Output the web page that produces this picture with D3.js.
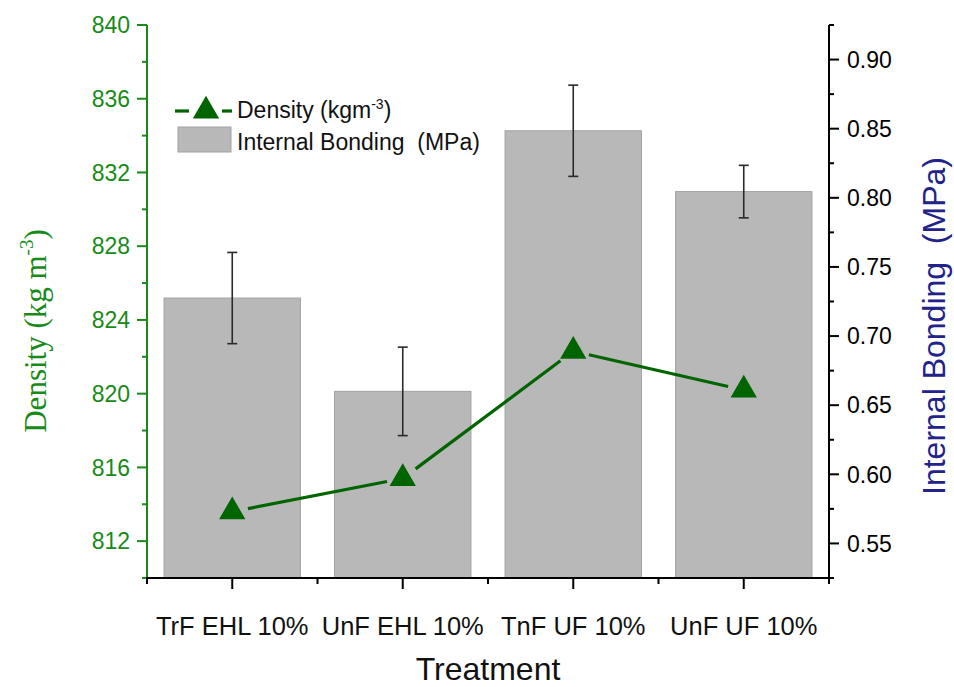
<!DOCTYPE html>
<html><head><meta charset="utf-8">
<script src="https://cdn.jsdelivr.net/npm/d3@7"></script>
<style>body{margin:0;background:#fff}svg{display:block}text{font-family:Arial,"Liberation Sans",sans-serif}</style>
</head><body><svg id="c" width="954" height="687"></svg>
<script>
const categories = ["TrF EHL 10%", "UnF EHL 10%", "TnF UF 10%", "UnF UF 10%"];
const bondingValues = [0.7275, 0.660, 0.8485, 0.8045];
const bondingErrors = [0.033, 0.032, 0.033, 0.019];
const densityValues = [813.6, 815.4, 822.3, 820.2];
const densityTicks = [812, 816, 820, 824, 828, 832, 836, 840];
const bondingTicks = [0.55, 0.60, 0.65, 0.70, 0.75, 0.80, 0.85, 0.90];

const svg = d3.select("#c");
const L = 147, R = 829, T = 25, B = 578;
const green = "#178a17", dgreen = "#006400", navy = "#22228a";

const x = d3.scaleBand().domain(categories).range([L, R]).paddingInner(0.2).paddingOuter(0.1);
const yL = d3.scaleLinear().domain([810, 840]).range([B, T]);
const yR = d3.scaleLinear().domain([0.525, 0.925]).range([B, T]);
const cx = d => x(d) + x.bandwidth() / 2;

// bars
svg.append("g").selectAll("rect").data(categories).join("rect")
  .attr("x", d => x(d)).attr("width", x.bandwidth())
  .attr("y", (d, i) => yR(bondingValues[i]))
  .attr("height", (d, i) => B - yR(bondingValues[i]))
  .attr("fill", "#b8b8b8").attr("stroke", "#a2a2a2").attr("stroke-width", 1);

// error bars
const eb = svg.append("g").attr("stroke", "#2a2a2a").attr("stroke-width", 1.6);
categories.forEach((c, i) => {
  const hi = yR(bondingValues[i] + bondingErrors[i]), lo = yR(bondingValues[i] - bondingErrors[i]);
  eb.append("line").attr("x1", cx(c)).attr("x2", cx(c)).attr("y1", hi).attr("y2", lo);
  eb.append("line").attr("x1", cx(c) - 5).attr("x2", cx(c) + 5).attr("y1", hi).attr("y2", hi);
  eb.append("line").attr("x1", cx(c) - 5).attr("x2", cx(c) + 5).attr("y1", lo).attr("y2", lo);
});

// density line with gaps near symbols
const pts = categories.map((c, i) => [cx(c), yL(densityValues[i])]);
const lg = svg.append("g").attr("stroke", dgreen).attr("stroke-width", 3.2);
for (let i = 0; i < pts.length - 1; i++) {
  const [x1, y1] = pts[i], [x2, y2] = pts[i + 1];
  const dx = x2 - x1, dy = y2 - y1, len = Math.hypot(dx, dy), g = 16;
  lg.append("line")
    .attr("x1", x1 + dx / len * g).attr("y1", y1 + dy / len * g)
    .attr("x2", x2 - dx / len * g).attr("y2", y2 - dy / len * g);
}
const tri = d3.symbol().type(d3.symbolTriangle).size(300);
svg.append("g").selectAll("path").data(pts).join("path")
  .attr("transform", d => `translate(${d[0]},${d[1]})`)
  .attr("d", tri).attr("fill", dgreen);

// left axis
const axL = svg.append("g");
axL.append("line").attr("x1", L).attr("x2", L).attr("y1", T).attr("y2", B + 2).attr("stroke", green).attr("stroke-width", 2);
const minorL = d3.range(810, 841, 2).filter(v => densityTicks.indexOf(v) < 0);
axL.selectAll(".mj").data(densityTicks).join("line")
  .attr("x1", L - 10).attr("x2", L).attr("y1", d => yL(d)).attr("y2", d => yL(d)).attr("stroke", green).attr("stroke-width", 2);
axL.selectAll(".mn").data(minorL).join("line").attr("class", "mn")
  .attr("x1", L - 5).attr("x2", L).attr("y1", d => yL(d)).attr("y2", d => yL(d)).attr("stroke", green).attr("stroke-width", 2);
axL.selectAll("text").data(densityTicks).join("text")
  .attr("x", L - 17).attr("y", d => yL(d)).attr("dy", "0.36em").attr("text-anchor", "end")
  .attr("font-size", 23).attr("fill", green).text(d => d);
axL.append("line").attr("x1", L - 1).attr("x2", L + 6).attr("y1", B).attr("y2", B).attr("stroke", "#000").attr("stroke-width", 2);

// right axis
const axR = svg.append("g");
axR.append("line").attr("x1", R).attr("x2", R).attr("y1", T).attr("y2", B + 2).attr("stroke", "#000").attr("stroke-width", 2);
const minorR = [0.525, 0.575, 0.625, 0.675, 0.725, 0.775, 0.825, 0.875, 0.925];
axR.selectAll(".mj").data(bondingTicks).join("line")
  .attr("x1", R).attr("x2", R + 10).attr("y1", d => yR(d)).attr("y2", d => yR(d)).attr("stroke", "#000").attr("stroke-width", 2);
axR.selectAll(".mn").data(minorR).join("line").attr("class", "mn")
  .attr("x1", R).attr("x2", R + 5).attr("y1", d => yR(d)).attr("y2", d => yR(d)).attr("stroke", "#000").attr("stroke-width", 2);
axR.selectAll("text").data(bondingTicks).join("text")
  .attr("x", R + 18).attr("y", d => yR(d)).attr("dy", "0.36em").attr("text-anchor", "start")
  .attr("font-size", 23).attr("fill", "#000").text(d => d.toFixed(2));

// bottom axis
const axB = svg.append("g");
axB.append("line").attr("x1", L).attr("x2", R).attr("y1", B).attr("y2", B).attr("stroke", "#000").attr("stroke-width", 2);
axB.selectAll(".mj").data(categories).join("line")
  .attr("x1", d => cx(d)).attr("x2", d => cx(d)).attr("y1", B).attr("y2", B + 11).attr("stroke", "#000").attr("stroke-width", 2);
const step = (R - L) / categories.length;
axB.selectAll(".mn").data(d3.range(categories.length + 1)).join("line").attr("class", "mn")
  .attr("x1", d => L + d * step).attr("x2", d => L + d * step).attr("y1", B).attr("y2", B + 6).attr("stroke", "#000").attr("stroke-width", 2);
axB.selectAll("text").data(categories).join("text")
  .attr("x", d => cx(d)).attr("y", 635).attr("text-anchor", "middle")
  .attr("font-size", 25.5).attr("fill", "#111").text(d => d);

// axis titles
svg.append("text").attr("x", 488).attr("y", 680).attr("text-anchor", "middle")
  .attr("font-size", 32).attr("fill", "#111").text("Treatment");

const lt = svg.append("text").attr("transform", "translate(46,331) rotate(-90)")
  .attr("text-anchor", "middle").attr("font-size", 31).attr("fill", green)
  .style("font-family", "'Liberation Serif','Times New Roman',serif");
lt.append("tspan").text("Density (kg m");
lt.append("tspan").attr("dy", -13).attr("font-size", 19).text("-3");
lt.append("tspan").attr("dy", 13).text(")");

svg.append("text").attr("transform", "translate(945,326) rotate(-90)")
  .attr("text-anchor", "middle").attr("font-size", 32).attr("fill", navy)
  .style("white-space", "pre")
  .text("Internal Bonding  (MPa)");

// legend
const leg = svg.append("g");
leg.append("line").attr("x1", 175).attr("x2", 189).attr("y1", 111).attr("y2", 111).attr("stroke", dgreen).attr("stroke-width", 3.2);
leg.append("line").attr("x1", 222).attr("x2", 232).attr("y1", 111).attr("y2", 111).attr("stroke", dgreen).attr("stroke-width", 3.2);
leg.append("path").attr("transform", "translate(206,111)").attr("d", tri).attr("fill", dgreen);
const l1 = leg.append("text").attr("x", 237).attr("y", 118).attr("font-size", 23).attr("fill", "#111");
l1.append("tspan").text("Density (kgm");
l1.append("tspan").attr("dy", -9).attr("font-size", 14).text("-3");
l1.append("tspan").attr("dy", 9).text(")");
leg.append("rect").attr("x", 178).attr("y", 127).attr("width", 53).attr("height", 25)
  .attr("fill", "#b8b8b8").attr("stroke", "#a2a2a2");
leg.append("text").attr("x", 237).attr("y", 150).attr("font-size", 23).attr("fill", "#111")
  .style("white-space", "pre").text("Internal Bonding  (MPa)");
</script></body></html>
